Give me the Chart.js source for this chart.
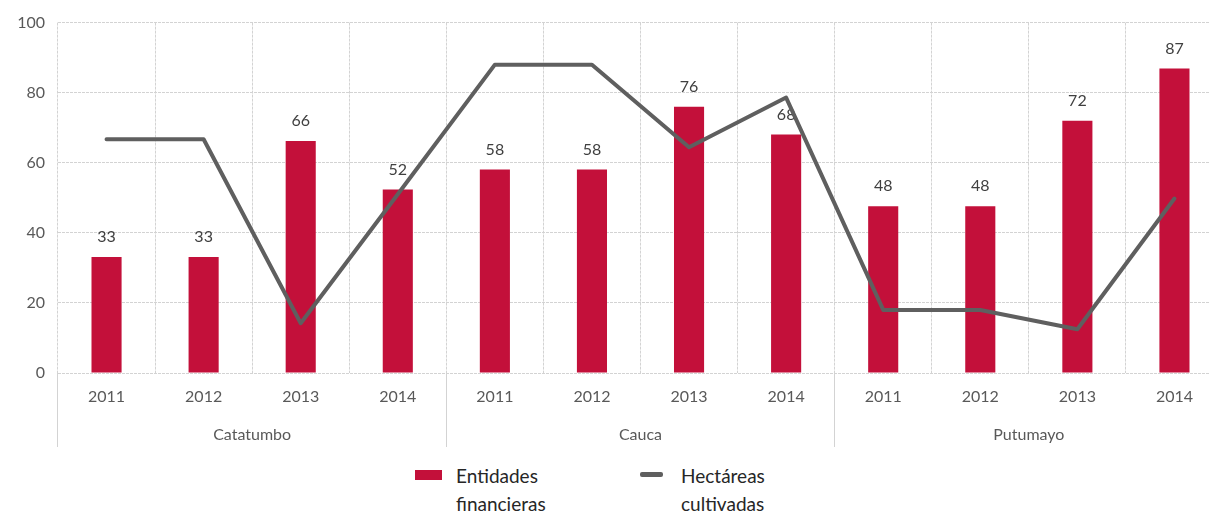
<!DOCTYPE html>
<html>
<head>
<meta charset="utf-8">
<script src="https://cdn.jsdelivr.net/npm/chart.js@4"></script>
<style>
  html, body { margin: 0; padding: 0; background: #fff; overflow: hidden; width: 1209px; height: 514px; }
  #wrap { position: relative; width: 1240px; height: 460px; }
  .leg { position: absolute; font-family: "Lato", sans-serif; font-size: 19px; line-height: 28px; color: #262626; }
  .box { position: absolute; }
</style>
</head>
<body>
<div id="wrap"><canvas id="myChart"></canvas></div>
<div class="box" style="left:415px;top:470px;width:27px;height:10px;background:#c3103a"></div>
<div class="leg" style="left:456px;top:462px">Entidades<br>financieras</div>
<div class="box" style="left:640px;top:472px;width:23px;height:5px;background:#5f5f5f;border-radius:2px"></div>
<div class="leg" style="left:681px;top:462px">Hectáreas<br>cultivadas</div>
<script>
const years = ["2011", "2012", "2013", "2014", "2011", "2012", "2013", "2014", "2011", "2012", "2013", "2014"];
const regions = ["Catatumbo", "Cauca", "Putumayo"];
const entidades = [33.1, 33.1, 66.2, 52.4, 58.1, 58.1, 76.0, 68.1, 47.6, 47.6, 72.0, 86.9];
const hectareas = [66.7, 66.7, 14.2, 51.0, 88.0, 88.0, 64.4, 78.6, 18.0, 18.0, 12.5, 49.8];
const yTicks = [0, 20, 40, 60, 80, 100];

const ctx = document.getElementById("myChart").getContext("2d");

// value labels above the bars, drawn before the line so it passes over them
const barLabels = {
  id: "barLabels",
  afterDatasetDraw(chart, args) {
    if (args.index !== 0) return;
    const c = chart.ctx;
    c.save();
    c.font = "16px Lato";
    c.fillStyle = "#404040";
    c.textAlign = "center";
    c.textBaseline = "bottom";
    args.meta.data.forEach((bar, i) => {
      c.fillText(Math.round(entidades[i]), bar.x, bar.y - 12);
    });
    c.restore();
  },
};

const chart = new Chart(ctx, {
  type: "bar",
  data: {
    labels: years,
    datasets: [
      {
        label: "Entidades financieras",
        data: entidades,
        backgroundColor: "#c3103a",
        barPercentage: 0.31,
        categoryPercentage: 1,
        order: 1,
      },
      {
        type: "line",
        label: "Hectáreas cultivadas",
        data: hectareas,
        borderColor: "#5f5f5f",
        borderWidth: 4,
        pointRadius: 0,
        tension: 0,
        borderJoinStyle: "round",
        borderCapStyle: "round",
        order: 0,
      },
    ],
  },
  options: {
    responsive: true,
    maintainAspectRatio: false,
    animation: false,
    layout: { padding: { top: 22, bottom: 9, left: 0, right: 17 } },
    plugins: { legend: { display: false }, tooltip: { enabled: false } },
    scales: {
      y: {
        min: 0,
        max: 100,
        afterBuildTicks: (scale) => {
          scale.ticks = yTicks.map((v) => ({ value: v }));
        },
        afterFit: (scale) => {
          scale.width = 58;
        },
        border: { display: false, dash: [3, 1] },
        grid: { color: "#d3d3d3", drawTicks: false },
        ticks: { color: "#595959", font: { family: "Lato", size: 16 }, padding: 13 },
      },
      x: {
        afterFit: (scale) => {
          scale.height = 48;
        },
        border: { display: false, dash: [3, 1] },
        grid: {
          offset: true,
          color: "#d3d3d3",
          tickLength: 74,
          tickColor: (c) => (c.index % 4 === 0 ? "#d3d3d3" : "rgba(0,0,0,0)"),
        },
        ticks: { color: "#595959", font: { family: "Lato", size: 16 }, padding: -60, maxRotation: 0 },
      },
      x2: {
        type: "category",
        labels: regions,
        position: "bottom",
        offset: true,
        afterFit: (scale) => {
          scale.height = 30;
        },
        border: { display: false },
        grid: { display: false },
        ticks: { color: "#595959", font: { family: "Lato", size: 16 }, padding: -4 },
      },
    },
  },
  plugins: [barLabels],
});
</script>
</body>
</html>
